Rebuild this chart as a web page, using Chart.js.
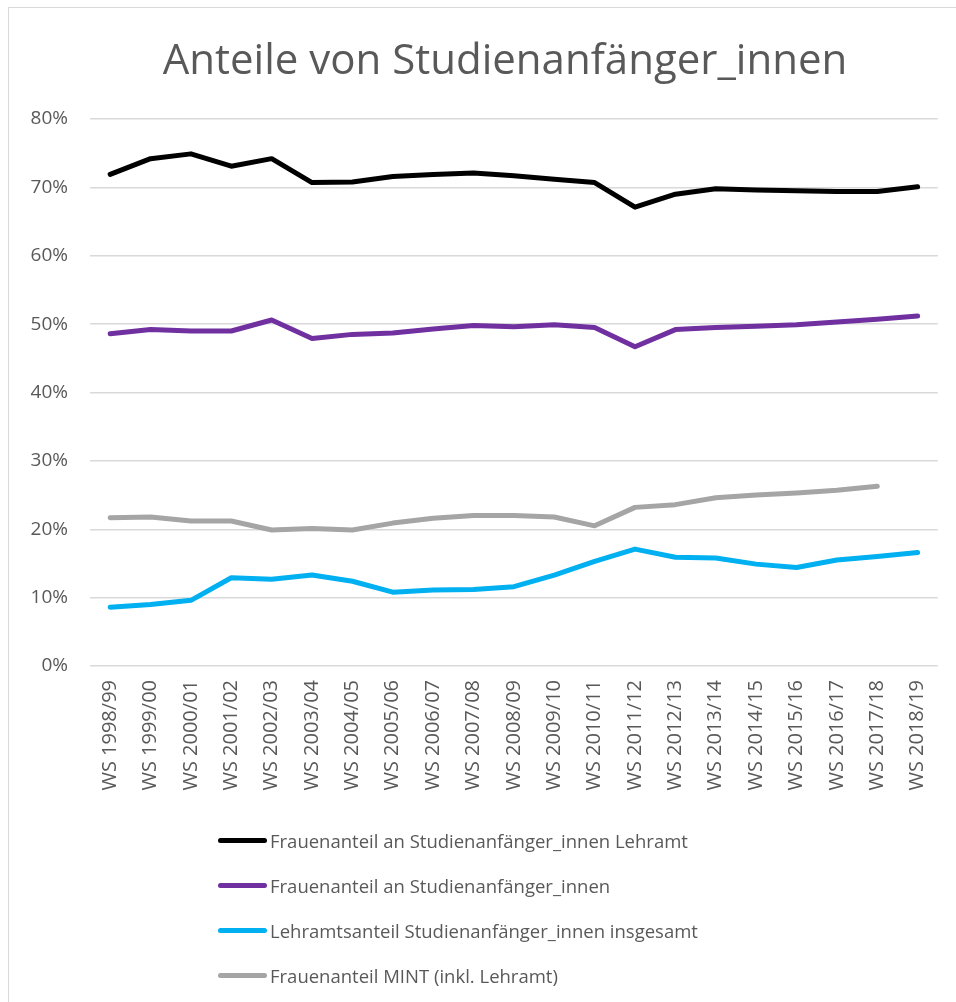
<!DOCTYPE html>
<html>
<head>
<meta charset="utf-8">
<script src="https://cdn.jsdelivr.net/npm/chart.js@4"></script>
<style>
  html, body { margin: 0; padding: 0; background: #fff; }
  #wrap { position: relative; width: 956px; height: 1002px; overflow: hidden; }
  #frame { position: absolute; left: 8px; top: 7px; width: 1000px; height: 1100px; border: 1px solid #d9d9d9; }
  #c { position: absolute; left: 0; top: 0; }
  #title { position: absolute; left: 105px; width: 800px; top: 29px; text-align: center;
    font-family: "Open Sans", sans-serif; font-size: 42px; line-height: 58px; color: #595959; }
  #legend { position: absolute; left: 218px; top: 818px; font-family: "Open Sans", sans-serif; font-size: 18.5px; color: #595959; }
  #legend .row { display: flex; align-items: center; height: 45px; }
  #legend .swatch { width: 49px; height: 5px; border-radius: 3px; margin-right: 3px; }
</style>
</head>
<body>
<div id="wrap">
  <div id="frame"></div>
  <canvas id="c" width="956" height="1002"></canvas>
  <div id="title">Anteile von Studienanfänger_innen</div>
  <div id="legend"></div>
</div>
<script>
// semesters on the x axis
const semesters = [
  'WS 1998/99', 'WS 1999/00', 'WS 2000/01', 'WS 2001/02', 'WS 2002/03', 'WS 2003/04',
  'WS 2004/05', 'WS 2005/06', 'WS 2006/07', 'WS 2007/08', 'WS 2008/09', 'WS 2009/10',
  'WS 2010/11', 'WS 2011/12', 'WS 2012/13', 'WS 2013/14', 'WS 2014/15', 'WS 2015/16',
  'WS 2016/17', 'WS 2017/18', 'WS 2018/19'
];

// shares in percent
const frauenLehramt = [71.9, 74.2, 74.9, 73.1, 74.2, 70.7, 70.8, 71.6, 71.9, 72.1, 71.7,
  71.2, 70.7, 67.1, 69.0, 69.8, 69.6, 69.5, 69.4, 69.4, 70.1];
const frauenGesamt = [48.6, 49.2, 49.0, 49.0, 50.6, 47.9, 48.5, 48.7, 49.3, 49.8, 49.6,
  49.9, 49.5, 46.7, 49.2, 49.5, 49.7, 49.9, 50.3, 50.7, 51.2];
const lehramtsanteil = [8.6, 9.0, 9.6, 12.9, 12.7, 13.3, 12.4, 10.8, 11.1, 11.2, 11.6,
  13.3, 15.3, 17.1, 15.9, 15.8, 14.9, 14.4, 15.5, 16.0, 16.6];
const frauenMint = [21.7, 21.8, 21.2, 21.2, 19.9, 20.1, 19.9, 20.9, 21.6, 22.0, 22.0,
  21.8, 20.5, 23.2, 23.6, 24.6, 25.0, 25.3, 25.7, 26.3, null];

const yTicks = [0, 10, 20, 30, 40, 50, 60, 70, 80];

const textColor = '#595959';
const font = '"Open Sans", sans-serif';

const makeLine = (label, data, color) => ({
  label: label,
  data: data,
  borderColor: color,
  backgroundColor: color,
  borderWidth: 5,
  pointRadius: 0,
  pointHoverRadius: 0,
  tension: 0,
  fill: false,
  borderCapStyle: 'round',
  borderJoinStyle: 'round'
});

const ctx = document.getElementById('c').getContext('2d');
const chart = new Chart(ctx, {
  type: 'line',
  data: {
    labels: semesters,
    datasets: [
      makeLine('Frauenanteil an Studienanfänger_innen Lehramt', frauenLehramt, '#000000'),
      makeLine('Frauenanteil an Studienanfänger_innen', frauenGesamt, '#7030A0'),
      makeLine('Lehramtsanteil Studienanfänger_innen insgesamt', lehramtsanteil, '#00B0F0'),
      makeLine('Frauenanteil MINT (inkl. Lehramt)', frauenMint, '#A5A5A5')
    ]
  },
  options: {
    responsive: false,
    devicePixelRatio: 1,
    animation: false,
    // title and legend are html, the padding keeps room for them
    layout: { padding: { top: 119, left: 0, right: 16, bottom: 196 } },
    plugins: {
      legend: { display: false },
      tooltip: { enabled: false },
      title: { display: false }
    },
    scales: {
      x: {
        offset: true,
        grid: { display: false, drawTicks: false },
        border: { display: false },
        ticks: {
          color: textColor,
          font: { family: font, size: 20 },
          minRotation: 90,
          maxRotation: 90,
          autoSkip: false,
          padding: 14
        },
        afterFit: (scale) => { scale.height = 140; }
      },
      y: {
        min: 0,
        max: 80,
        afterBuildTicks: (scale) => { scale.ticks = yTicks.map(v => ({ value: v })); },
        grid: { color: '#d9d9d9', lineWidth: 1.5, drawTicks: false },
        border: { display: false },
        ticks: {
          color: textColor,
          font: { family: font, size: 19 },
          padding: 22,
          callback: (v) => v + '%'
        },
        afterFit: (scale) => { scale.width = 90; }
      }
    }
  }
});

// vertical legend like the original, built from the datasets
const legendEl = document.getElementById('legend');
chart.data.datasets.forEach(ds => {
  const row = document.createElement('div');
  row.className = 'row';
  const sw = document.createElement('span');
  sw.className = 'swatch';
  sw.style.background = ds.borderColor;
  const txt = document.createElement('span');
  txt.textContent = ds.label;
  row.appendChild(sw);
  row.appendChild(txt);
  legendEl.appendChild(row);
});
</script>
</body>
</html>
